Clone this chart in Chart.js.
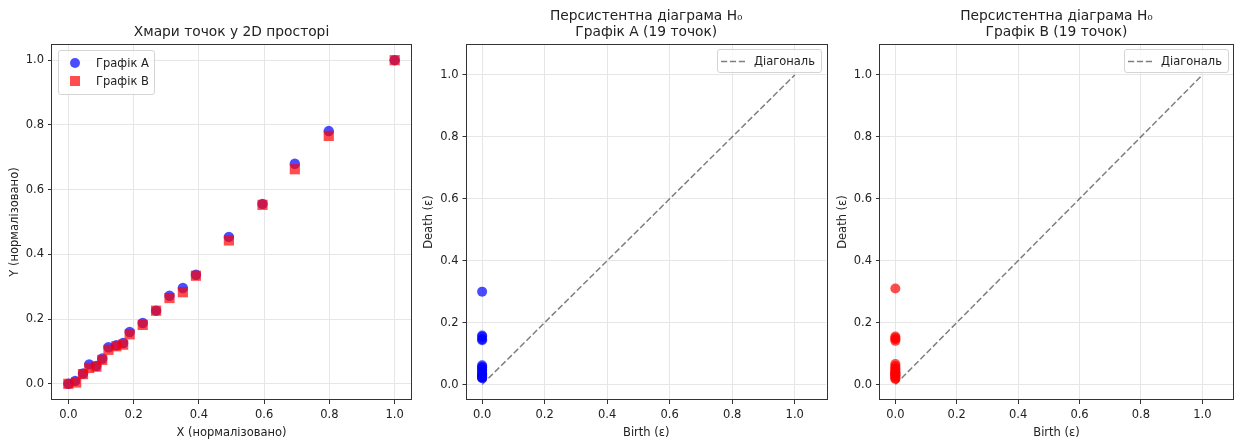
<!DOCTYPE html>
<html>
<head>
<meta charset="utf-8">
<script src="https://cdn.jsdelivr.net/npm/chart.js@4.4.0/dist/chart.umd.min.js"></script>
<style>
    body { margin: 0; background: #fff; }
    #wrap { position: relative; width: 1238px; height: 441px; overflow: hidden; }
    canvas { position: absolute; top: 0; }
    .legend {
        position: absolute;
        box-sizing: border-box;
        border: 1px solid #d4d4d4;
        border-radius: 3px;
        background: rgba(255, 255, 255, 0.8);
        font: 11.5px "DejaVu Sans";
        color: #222;
    }
    .legend .row { position: absolute; left: 0; height: 14px; line-height: 14px; white-space: nowrap; }
    .legend .mark { position: absolute; top: 2px; width: 10px; height: 10px; }
    .legend .txt { position: absolute; top: 0; }
</style>
</head>
<body>
<div id="wrap">
    <canvas id="cloud" width="430" height="441" style="left:0px"></canvas>
    <canvas id="persA" width="425" height="441" style="left:415px"></canvas>
    <canvas id="persB" width="408" height="441" style="left:830px"></canvas>
</div>
<script>
// Point clouds (normalised coordinates)
const cloudAX = [0, 0.021, 0.045, 0.064, 0.086, 0.104, 0.123, 0.147, 0.168, 0.188, 0.228, 0.269, 0.31, 0.351, 0.391, 0.492, 0.595, 0.694, 0.798, 1.0];
const cloudAY = [0, 0.009, 0.032, 0.06, 0.055, 0.078, 0.113, 0.119, 0.126, 0.16, 0.188, 0.226, 0.272, 0.296, 0.337, 0.454, 0.556, 0.68, 0.781, 1.0];
const cloudBX = [0, 0.024, 0.045, 0.064, 0.086, 0.104, 0.123, 0.147, 0.168, 0.188, 0.228, 0.269, 0.31, 0.351, 0.391, 0.492, 0.595, 0.694, 0.798, 1.0];
const cloudBY = [0, 0.004, 0.03, 0.049, 0.053, 0.074, 0.105, 0.116, 0.121, 0.153, 0.182, 0.226, 0.265, 0.283, 0.334, 0.443, 0.553, 0.663, 0.766, 1.0];

// H0 persistence pairs
const birthsA = [0, 0, 0, 0, 0, 0, 0, 0, 0, 0, 0, 0, 0, 0, 0, 0, 0, 0, 0];
const deathsA = [0.02, 0.022, 0.024, 0.025, 0.029, 0.032, 0.034, 0.036, 0.041, 0.047, 0.049, 0.055, 0.057, 0.062, 0.143, 0.146, 0.154, 0.158, 0.30];
const birthsB = [0, 0, 0, 0, 0, 0, 0, 0, 0, 0, 0, 0, 0, 0, 0, 0, 0, 0, 0];
const deathsB = [0.018, 0.02, 0.025, 0.028, 0.03, 0.033, 0.036, 0.038, 0.04, 0.045, 0.05, 0.054, 0.06, 0.066, 0.141, 0.146, 0.15, 0.155, 0.31];

const diagonalX = [0, 1];
const diagonalY = [0, 1];

const tickValues = [0, 0.2, 0.4, 0.6, 0.8, 1.0];
const seriesLabels = ['Графік A', 'Графік B'];
const diagonalLabel = 'Діагональ';

const FONT = 'DejaVu Sans';
const TEXT = '#222';
const BLUE = 'rgba(0, 0, 255, 0.7)';
const RED = 'rgba(255, 0, 0, 0.7)';
const DIAG = 'rgba(0, 0, 0, 0.5)';

function toPoints(xs, ys) {
    return xs.map((x, i) => ({ x: x, y: ys[i] }));
}

// Axis box like matplotlib spines
const framePlugin = {
    id: 'frame',
    afterDraw(chart) {
        const a = chart.chartArea;
        const ctx = chart.ctx;
        ctx.save();
        ctx.strokeStyle = '#333';
        ctx.lineWidth = 1;
        ctx.strokeRect(Math.round(a.left) - 0.5, Math.round(a.top) + 0.5,
            Math.round(a.right - a.left) + 1, Math.round(a.bottom - a.top) - 1);
        ctx.restore();
    }
};

function makeScale(label, range, size, titlePad) {
    return {
        type: 'linear',
        min: range[0],
        max: range[1],
        afterBuildTicks: s => { s.ticks = tickValues.map(v => ({ value: v })); },
        afterFit: s => {
            if (s.isHorizontal()) s.height = size; else s.width = size;
        },
        ticks: {
            padding: 4,
            color: TEXT,
            font: { family: FONT, size: 11.5 },
            callback: v => v.toFixed(1)
        },
        grid: { color: '#e6e6e6', lineWidth: 1, tickColor: '#333', tickLength: 4, tickWidth: 1 },
        border: { display: false },
        title: {
            display: true,
            text: label,
            color: TEXT,
            font: { family: FONT, size: 11.5, lineHeight: '14px' },
            padding: titlePad
        }
    };
}

function makeOptions(title, titlePad, xLabel, yLabel, xRange, yRange, yWidth, yTitlePad, rightPad) {
    return {
        responsive: false,
        animation: false,
        layout: { padding: { left: 0, right: rightPad, top: 0, bottom: 0 } },
        plugins: {
            legend: { display: false },
            tooltip: { enabled: false },
            title: {
                display: true,
                fullSize: false,
                text: title,
                color: TEXT,
                font: { family: FONT, size: 13.8, weight: 'normal', lineHeight: '16px' },
                padding: titlePad
            }
        },
        scales: {
            x: makeScale(xLabel, xRange, 41, { top: 4, bottom: 1 }),
            y: makeScale(yLabel, yRange, yWidth, { top: yTitlePad, bottom: 0 })
        }
    };
}

// Point cloud chart
const cloudChart = new Chart(document.getElementById('cloud'), {
    type: 'scatter',
    data: {
        datasets: [
            {
                label: seriesLabels[0],
                data: toPoints(cloudAX, cloudAY),
                backgroundColor: BLUE,
                borderWidth: 0,
                pointStyle: 'circle',
                pointRadius: 5.2,
                order: 1
            },
            {
                label: seriesLabels[1],
                data: toPoints(cloudBX, cloudBY),
                backgroundColor: RED,
                borderWidth: 0,
                pointStyle: 'rect',
                pointRadius: 7.2,
                order: 0
            }
        ]
    },
    options: makeOptions('Хмари точок у 2D просторі', { top: 24, bottom: 4 },
        'X (нормалізовано)', 'Y (нормалізовано)', [-0.05, 1.05], [-0.05, 1.05], 52, 8, 19),
    plugins: [framePlugin]
});

// Persistence diagrams
function persistenceChart(id, label, births, deaths, color, yTitlePad, yWidth, rightPad) {
    return new Chart(document.getElementById(id), {
        type: 'scatter',
        data: {
            datasets: [
                {
                    label: 'H0',
                    data: toPoints(births, deaths),
                    backgroundColor: color,
                    borderWidth: 0,
                    pointRadius: 5,
                    order: 0
                },
                {
                    label: diagonalLabel,
                    data: toPoints(diagonalX, diagonalY),
                    showLine: true,
                    pointRadius: 0,
                    borderColor: DIAG,
                    borderWidth: 1.5,
                    borderDash: [6.2, 2.7],
                    fill: false,
                    order: 1
                }
            ]
        },
        options: makeOptions(['Персистентна діаграма H₀', label + ' (' + deaths.length + ' точок)'],
            { top: 8.5, bottom: 3.5 }, 'Birth (ε)', 'Death (ε)',
            [-0.05, 1.1], [-0.05, 1.1], yWidth, yTitlePad, rightPad),
        plugins: [framePlugin]
    });
}

const persAChart = persistenceChart('persA', seriesLabels[0], birthsA, deathsA, BLUE, 7, 51.5, 14);
const persBChart = persistenceChart('persB', seriesLabels[1], birthsB, deathsB, RED, 6, 50, 1);

// Legends drawn as html boxes inside the plot areas
const wrap = document.getElementById('wrap');

function addCloudLegend(chart, canvasLeft) {
    const a = chart.chartArea;
    const box = document.createElement('div');
    box.className = 'legend';
    box.style.left = (canvasLeft + a.left + 6) + 'px';
    box.style.top = (a.top + 6) + 'px';
    box.style.width = '97px';
    box.style.height = '45px';
    chart.data.datasets.forEach((ds, i) => {
        const row = document.createElement('div');
        row.className = 'row';
        row.style.top = (5 + i * 18) + 'px';
        const mark = document.createElement('div');
        mark.className = 'mark';
        mark.style.left = '11px';
        mark.style.background = ds.backgroundColor;
        if (ds.pointStyle === 'circle') mark.style.borderRadius = '50%';
        const txt = document.createElement('span');
        txt.className = 'txt';
        txt.style.left = '37px';
        txt.textContent = ds.label;
        row.appendChild(mark);
        row.appendChild(txt);
        box.appendChild(row);
    });
    wrap.appendChild(box);
}

function addDiagonalLegend(chart, canvasLeft) {
    const a = chart.chartArea;
    const width = 105;
    const box = document.createElement('div');
    box.className = 'legend';
    box.style.left = (canvasLeft + a.right - 4 - width) + 'px';
    box.style.top = (a.top + 5) + 'px';
    box.style.width = width + 'px';
    box.style.height = '24px';
    const row = document.createElement('div');
    row.className = 'row';
    row.style.top = '4px';
    row.innerHTML = '<svg width="24" height="14" style="position:absolute;left:3px;top:0">' +
        '<line x1="0" y1="7.5" x2="24" y2="7.5" stroke="' + DIAG + '" stroke-width="1.5" stroke-dasharray="6.2 2.7"/></svg>';
    const txt = document.createElement('span');
    txt.className = 'txt';
    txt.style.left = '36px';
    txt.textContent = chart.data.datasets[1].label;
    row.appendChild(txt);
    box.appendChild(row);
    wrap.appendChild(box);
}

addCloudLegend(cloudChart, 0);
addDiagonalLegend(persAChart, 415);
addDiagonalLegend(persBChart, 830);
</script>
</body>
</html>
